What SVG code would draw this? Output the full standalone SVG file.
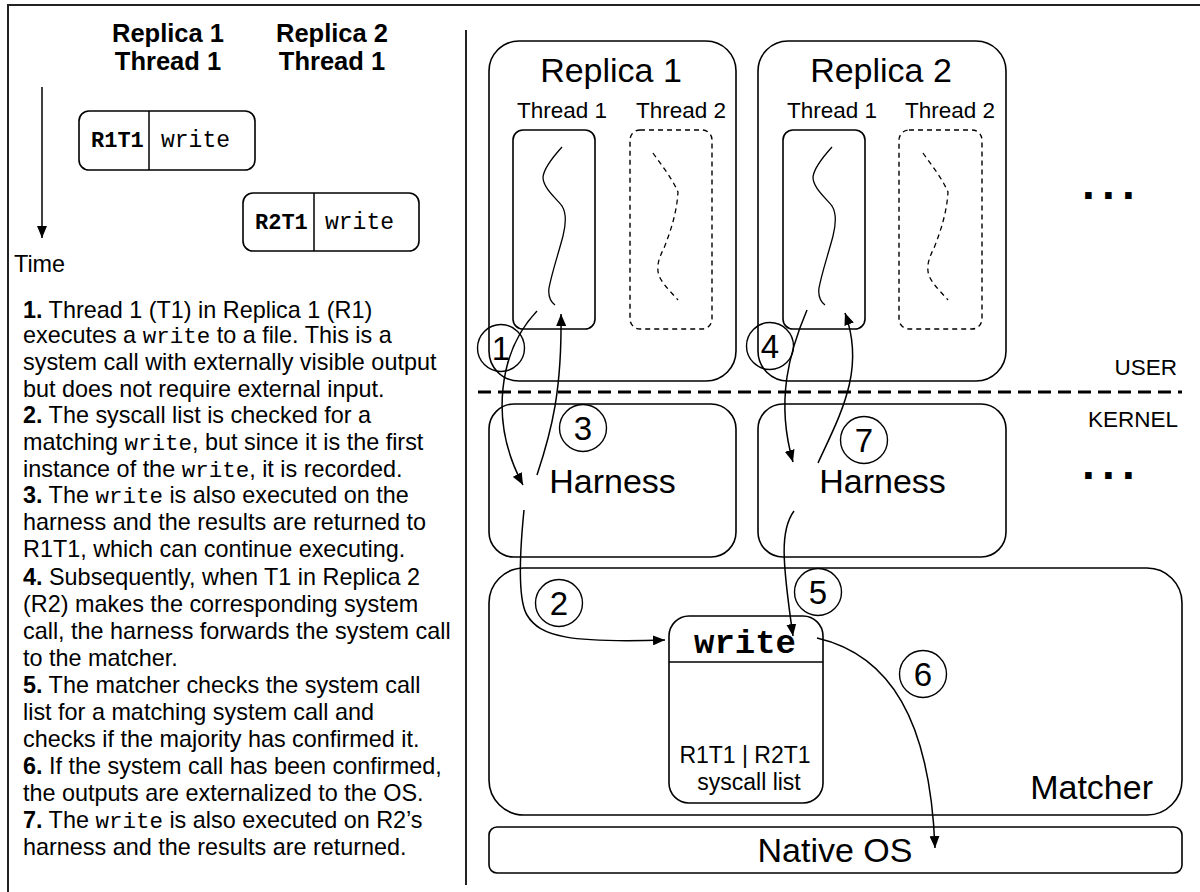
<svg xmlns="http://www.w3.org/2000/svg" width="1200" height="892" viewBox="0 0 1200 892">
  <defs>
    <marker id="arrow" markerUnits="userSpaceOnUse" markerWidth="13" markerHeight="10" refX="12" refY="5" orient="auto">
      <path d="M0,0 L12,5 L0,10 z" fill="#000"/>
    </marker>
    <style>
      .box{fill:none;stroke:#000;stroke-width:1.6}
      .dashbox{fill:none;stroke:#000;stroke-width:1.4;stroke-dasharray:5 4}
      .trace{fill:none;stroke:#000;stroke-width:1.3}
      .dtrace{fill:none;stroke:#000;stroke-width:1.3;stroke-dasharray:5 4}
      .conn{fill:none;stroke:#000;stroke-width:1.5;marker-end:url(#arrow)}
      .frame{fill:none;stroke:#222;stroke-width:2}
      .sans{font-family:"Liberation Sans",Arial,sans-serif;fill:#000}
      .mono{font-family:"Liberation Mono","Courier New",monospace;fill:#000}
      .hdr{font-size:25.5px;font-weight:bold}
      .big{font-size:34px}
      .thr{font-size:22.5px}
      .body{font-size:23.4px}
      .code{font-family:"Liberation Mono","Courier New",monospace;font-size:22.5px}
      .num{font-size:33px}
      .dots{font-family:"Liberation Sans",Arial,sans-serif;font-size:46px;font-weight:bold;letter-spacing:7.2px}
      .ring{fill:none;stroke:#000;stroke-width:1.4}
    </style>
  </defs>

  <rect width="1200" height="892" fill="#fff"/>

  <!-- outer frame and column separator -->
  <path class="frame" d="M8,892 V5 H1200"/>
  <line class="frame" x1="466" y1="30" x2="466" y2="885"/>

  <!-- timeline legend -->
  <g id="legend-headers" class="sans hdr" text-anchor="middle">
    <text x="168" y="42">Replica 1</text>
    <text x="168" y="70">Thread 1</text>
    <text x="332" y="42">Replica 2</text>
    <text x="332" y="70">Thread 1</text>
  </g>
  <g id="time-axis">
    <line x1="42" y1="87" x2="42" y2="238" stroke="#000" stroke-width="1.5" marker-end="url(#arrow)"/>
    <text class="sans body" x="14" y="272">Time</text>
  </g>
  <g id="r1t1-call">
    <rect class="box" x="79" y="111" width="176" height="59" rx="10"/>
    <line x1="149" y1="111" x2="149" y2="170" stroke="#000" stroke-width="1.5"/>
    <text class="mono" x="91" y="147" font-size="22" font-weight="bold">R1T1</text>
    <text class="mono" x="161" y="147" font-size="23">write</text>
  </g>
  <g id="r2t1-call">
    <rect class="box" x="243" y="193" width="176" height="58" rx="10"/>
    <line x1="314" y1="193" x2="314" y2="251" stroke="#000" stroke-width="1.5"/>
    <text class="mono" x="255" y="229" font-size="22" font-weight="bold">R2T1</text>
    <text class="mono" x="325" y="229" font-size="23">write</text>
  </g>

  <!-- step descriptions -->
  <g id="steps" class="sans body">
    <text x="23" y="318"><tspan font-weight="bold">1.</tspan> Thread 1 (T1) in Replica 1 (R1)</text>
    <text x="23" y="343">executes a <tspan class="code">write</tspan> to a file. This is a</text>
    <text x="23" y="370">system call with externally visible output</text>
    <text x="23" y="397">but does not require external input.</text>
    <text x="23" y="423"><tspan font-weight="bold">2.</tspan> The syscall list is checked for a</text>
    <text x="23" y="450">matching <tspan class="code">write</tspan>, but since it is the first</text>
    <text x="23" y="477">instance of the <tspan class="code">write</tspan>, it is recorded.</text>
    <text x="23" y="503"><tspan font-weight="bold">3.</tspan> The <tspan class="code">write</tspan> is also executed on the</text>
    <text x="23" y="530">harness and the results are returned to</text>
    <text x="23" y="557">R1T1, which can continue executing.</text>
    <text x="23" y="585"><tspan font-weight="bold">4.</tspan> Subsequently, when T1 in Replica 2</text>
    <text x="23" y="612">(R2) makes the corresponding system</text>
    <text x="23" y="639">call, the harness forwards the system call</text>
    <text x="23" y="666">to the matcher.</text>
    <text x="23" y="693"><tspan font-weight="bold">5.</tspan> The matcher checks the system call</text>
    <text x="23" y="720">list for a matching system call and</text>
    <text x="23" y="747">checks if the majority has confirmed it.</text>
    <text x="23" y="774"><tspan font-weight="bold">6.</tspan> If the system call has been confirmed,</text>
    <text x="23" y="801">the outputs are externalized to the OS.</text>
    <text x="23" y="828"><tspan font-weight="bold">7.</tspan> The <tspan class="code">write</tspan> is also executed on R2’s</text>
    <text x="23" y="855">harness and the results are returned.</text>
  </g>

  <!-- user space -->
  <g id="replica-1">
    <rect class="box" x="489" y="41" width="247" height="340" rx="30"/>
    <text class="sans big" x="611" y="82" text-anchor="middle">Replica 1</text>
    <text class="sans thr" x="562" y="118" text-anchor="middle">Thread 1</text>
    <text class="sans thr" x="681" y="118" text-anchor="middle">Thread 2</text>
    <rect class="box" x="513" y="130" width="82" height="199" rx="10"/>
    <path class="trace" d="M562,147 C552,158 544,168 543,177 C543,188 556,198 562,206 C567,214 565,228 563,236 C558,255 552,272 549,288 C548,296 551,302 555,305"/>
    <rect class="dashbox" x="630" y="130" width="82" height="199" rx="10"/>
    <path class="dtrace" d="M653,153 C662,166 672,178 678,192 C677,210 672,228 664,248 C659,258 656,266 659,276 C664,286 672,293 678,300"/>
  </g>
  <g id="replica-2">
    <rect class="box" x="758" y="41" width="248" height="340" rx="30"/>
    <text class="sans big" x="881" y="82" text-anchor="middle">Replica 2</text>
    <text class="sans thr" x="832" y="118" text-anchor="middle">Thread 1</text>
    <text class="sans thr" x="950" y="118" text-anchor="middle">Thread 2</text>
    <rect class="box" x="783" y="130" width="82" height="199" rx="10"/>
    <path class="trace" transform="translate(270,0)" d="M562,147 C552,158 544,168 543,177 C543,188 556,198 562,206 C567,214 565,228 563,236 C558,255 552,272 549,288 C548,296 551,302 555,305"/>
    <rect class="dashbox" x="899" y="130" width="83" height="199" rx="10"/>
    <path class="dtrace" transform="translate(270,0)" d="M653,153 C662,166 672,178 678,192 C677,210 672,228 664,248 C659,258 656,266 659,276 C664,286 672,293 678,300"/>
  </g>
  <g id="more-replicas">
    <text class="dots" x="1082" y="199">...</text>
  </g>

  <!-- user / kernel boundary -->
  <g id="boundary">
    <line x1="478" y1="392" x2="1182" y2="392" stroke="#000" stroke-width="3" stroke-dasharray="13 7"/>
    <text class="sans thr" x="1177" y="375" text-anchor="end">USER</text>
    <text class="sans thr" x="1178" y="427" text-anchor="end">KERNEL</text>
  </g>

  <!-- kernel space -->
  <g id="harness-1">
    <rect class="box" x="489" y="404" width="247" height="153" rx="25"/>
    <text class="sans big" x="612.5" y="493" text-anchor="middle">Harness</text>
  </g>
  <g id="harness-2">
    <rect class="box" x="758" y="404" width="248" height="153" rx="25"/>
    <text class="sans big" x="882.5" y="493" text-anchor="middle">Harness</text>
  </g>
  <g id="more-harnesses">
    <text class="dots" x="1082" y="479">...</text>
  </g>
  <g id="matcher">
    <rect class="box" x="489" y="568" width="693" height="247" rx="35"/>
    <text class="sans big" x="1153" y="799" text-anchor="end">Matcher</text>
  </g>
  <g id="syscall-list">
    <rect class="box" x="669" y="616" width="154" height="187" rx="20"/>
    <line x1="669" y1="662" x2="823" y2="662" stroke="#000" stroke-width="1.5"/>
    <text class="mono" x="745" y="653" font-size="34" font-weight="bold" text-anchor="middle">write</text>
    <text class="sans" x="745" y="763" font-size="23" text-anchor="middle">R1T1 | R2T1</text>
    <text class="sans" x="749" y="790" font-size="23" text-anchor="middle">syscall list</text>
  </g>
  <g id="native-os">
    <rect class="box" x="489" y="827" width="693" height="46" rx="8"/>
    <text class="sans big" x="835" y="862" text-anchor="middle">Native OS</text>
  </g>

  <!-- numbered flow arrows -->
  <g id="connectors">
    <path class="conn" d="M537,311 C500,350 488,420 523,485"/>
    <path class="conn" d="M524,510 C519,560 518,600 527,615 C540,637 570,643 665,640"/>
    <path class="conn" d="M537,475 C552,430 562,390 561,314"/>
    <path class="conn" d="M807,310 C790,350 775,400 793,462"/>
    <path class="conn" d="M794,511 C780,530 782,560 793,636"/>
    <path class="conn" d="M817,638 C890,655 930,720 935,848"/>
    <path class="conn" d="M818,463 C840,415 866,370 845,313"/>
  </g>

  <g id="step-markers" class="sans num" text-anchor="middle">
    <circle class="ring" cx="501" cy="348" r="23.5"/><text x="501" y="360">1</text>
    <circle class="ring" cx="559" cy="603" r="23.5"/><text x="559" y="615">2</text>
    <circle class="ring" cx="583" cy="428" r="23.5"/><text x="583" y="440">3</text>
    <circle class="ring" cx="770" cy="346" r="23.5"/><text x="770" y="358">4</text>
    <circle class="ring" cx="818" cy="592" r="23.5"/><text x="818" y="604">5</text>
    <circle class="ring" cx="923" cy="674" r="23.5"/><text x="923" y="686">6</text>
    <circle class="ring" cx="864" cy="440" r="23.5"/><text x="864" y="452">7</text>
  </g>
</svg>
